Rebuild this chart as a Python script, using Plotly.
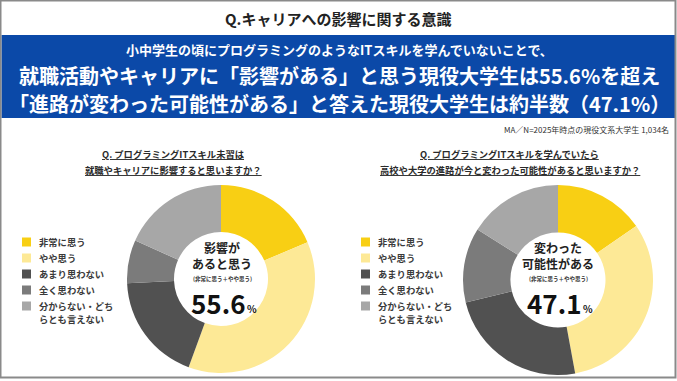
import plotly.graph_objects as go

W, H = 677, 381
FONT = "Noto Sans CJK JP"

# ---- data ----
labels = ["非常に思う", "やや思う", "あまり思わない", "全く思わない", "分からない・どちらとも言えない"]
legend_labels = ["非常に思う", "やや思う", "あまり思わない", "全く思わない", "分からない・どち<br>らとも言えない"]
left_values = [18.6, 37.0, 18.7, 7.4, 18.3]
right_values = [15.4, 31.7, 24.1, 12.7, 16.1]
left_total = "55.6"
right_total = "47.1"
colors = ["#F8CF14", "#FDE996", "#515151", "#7B7B7B", "#A7A7A7"]

title = "Q.キャリアへの影響に関する意識"
banner_lines = [
    "小中学生の頃にプログラミングのようなITスキルを学んでいないことで、",
    "就職活動やキャリアに「影響がある」と思う現役大学生は55.6%を超え",
    "「進路が変わった可能性がある」と答えた現役大学生は約半数（47.1%）",
]
note = "MA／N=2025年時点の現役文系大学生 1,034名"
left_question = ["Q. プログラミングITスキル未習は", "就職やキャリアに影響すると思いますか？"]
right_question = ["Q. プログラミングITスキルを学んでいたら", "高校や大学の進路が今と変わった可能性があると思いますか？"]
left_center = ["影響が", "あると思う"]
right_center = ["変わった", "可能性がある"]
center_sub = "(非常に思う＋やや思う)"


def px(x):
    return x / W


def py(y):
    return 1 - y / H


def dom(cx, cy, r):
    return dict(x=[px(cx - r), px(cx + r)], y=[py(cy + r), py(cy - r)])


fig = go.Figure()
for vals, (cx, cy, r) in [(left_values, (221, 279, 94)), (right_values, (558, 280, 95))]:
    fig.add_trace(go.Pie(
        labels=labels, values=vals, hole=0.5, sort=False, direction="clockwise",
        rotation=0, marker=dict(colors=colors, line=dict(width=0)),
        textinfo="none", hoverinfo="label+value", showlegend=False,
        domain=dom(cx, cy, r),
    ))

shapes = []
ann = []

# outer frame
shapes.append(dict(type="rect", xref="paper", yref="paper", x0=px(0.5), x1=px(W - 1.5),
                   y0=py(H - 3.5), y1=py(0.5), line=dict(color="#8A8A8A", width=2), layer="above"))
# banner
shapes.append(dict(type="rect", xref="paper", yref="paper", x0=px(1.5), x1=px(W - 2),
                   y0=py(118), y1=py(35), fillcolor="#0B49A8", line=dict(width=0), layer="below"))

ann.append(dict(x=px(338), y=py(19), text=f"<b>{title}</b>",
                font=dict(size=15, color="#222222", family=FONT)))
for txt, y, s in zip(banner_lines, [49, 75, 103], [13, 20, 20]):
    ann.append(dict(x=px(339), y=py(y), text=f"<b>{txt}</b>", font=dict(size=s, color="white", family=FONT)))
ann.append(dict(x=px(670), y=py(129), text=note, xanchor="right",
                font=dict(size=8, color="#333333", family=FONT)))

for q, cx in [(left_question, 173), (right_question, 510)]:
    for line, y in zip(q, [154, 170]):
        ann.append(dict(x=px(cx), y=py(y), text=f"<b><u>{line}</u></b>",
                        font=dict(size=9.3, color="#2A2A2A", family=FONT)))

# legends
for lx in [22, 361]:
    rows = [242, 258, 274, 290, 306]
    for lab, col, y in zip(legend_labels, colors, rows):
        shapes.append(dict(type="rect", xref="paper", yref="paper", x0=px(lx), x1=px(lx + 9),
                           y0=py(y + 4.5), y1=py(y - 4.5), fillcolor=col, line=dict(width=0)))
        for i, part in enumerate(lab.split("<br>")):
            ann.append(dict(x=px(lx + 16), y=py(y + 13 * i), text=f"<b>{part}</b>",
                            xanchor="left", yanchor="middle",
                            font=dict(size=9.3, color="#3A3A3A", family=FONT)))

# center texts
for lines, total, cx in [(left_center, left_total, 222), (right_center, right_total, 558)]:
    ann.append(dict(x=px(cx), y=py(255.5), text=f"<b>{lines[0]}<br>{lines[1]}</b>",
                    font=dict(size=12, color="#222222", family=FONT)))
    ann.append(dict(x=px(cx), y=py(279), text=f"<b>{center_sub}</b>", font=dict(size=5.5, color="#333333", family=FONT)))
    ann.append(dict(x=px(cx - 4), y=py(302), text=f"<b>{total}</b>", font=dict(size=26, color="#111111", family=FONT)))
    ann.append(dict(x=px(cx + 24), y=py(308), text="<b>%</b>", xanchor="left",
                    font=dict(size=10, color="#111111", family=FONT)))

for a in ann:
    a.setdefault("xref", "paper")
    a.setdefault("yref", "paper")
    a.setdefault("xanchor", "center")
    a.setdefault("yanchor", "middle")
    a.setdefault("showarrow", False)
    a.setdefault("borderpad", 0)

fig.update_layout(
    width=W, height=H, margin=dict(l=0, r=0, t=0, b=0),
    paper_bgcolor="white", plot_bgcolor="white",
    shapes=shapes, annotations=ann, showlegend=False,
    font=dict(family=FONT),
)
fig.write_html("out.html", config={"displayModeBar": False},
               post_script="document.body.style.margin='0';")
